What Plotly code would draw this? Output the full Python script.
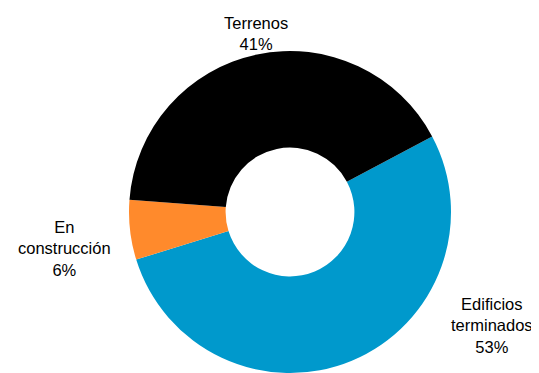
import plotly.graph_objects as go

# Datos de la composición
categorias = ["Edificios terminados", "En construcción", "Terrenos"]
porcentajes = [53, 6, 41]
colores = ["#0099CC", "#FF8A2C", "#000000"]

# Texto de cada etiqueta partido en líneas y su posición en píxeles de la página
etiquetas = {
    "Edificios terminados": ("Edificios<br>terminados", 492, 325),
    "En construcción": ("En<br>construcción", 64, 248),
    "Terrenos": ("Terrenos", 256, 33),
}

# el body del html deja 8 px de margen: la figura se corre esa cantidad
OFF = 8
W, H = 539 - OFF, 373 - OFF
cx, cy, r = 290 - OFF, 212 - OFF, 161

fig = go.Figure(go.Pie(
    labels=categorias,
    values=porcentajes,
    marker=dict(colors=colores, line=dict(width=0)),
    hole=0.40,
    sort=False,
    direction="clockwise",
    rotation=62,
    textinfo="none",
    hoverinfo="label+percent",
    domain=dict(x=[(cx - r) / W, (cx + r) / W],
                y=[max(0, (H - cy - r) / H), min(1, (H - cy + r) / H)]),
))

for cat, val in zip(categorias, porcentajes):
    texto, x, y = etiquetas[cat]
    fig.add_annotation(
        text=f"{texto}<br>{val}%",
        x=(x - OFF) / W, y=1 - (y - OFF) / H, xref="paper", yref="paper",
        xanchor="center", yanchor="middle",
        showarrow=False, align="center",
        font=dict(family="Liberation Sans, Arial, sans-serif", size=16.5, color="#000000"),
    )

fig.update_layout(
    width=W, height=H,
    margin=dict(l=0, r=0, t=0, b=0),
    showlegend=False,
    paper_bgcolor="white",
    plot_bgcolor="white",
)

fig.write_html("out.html")
